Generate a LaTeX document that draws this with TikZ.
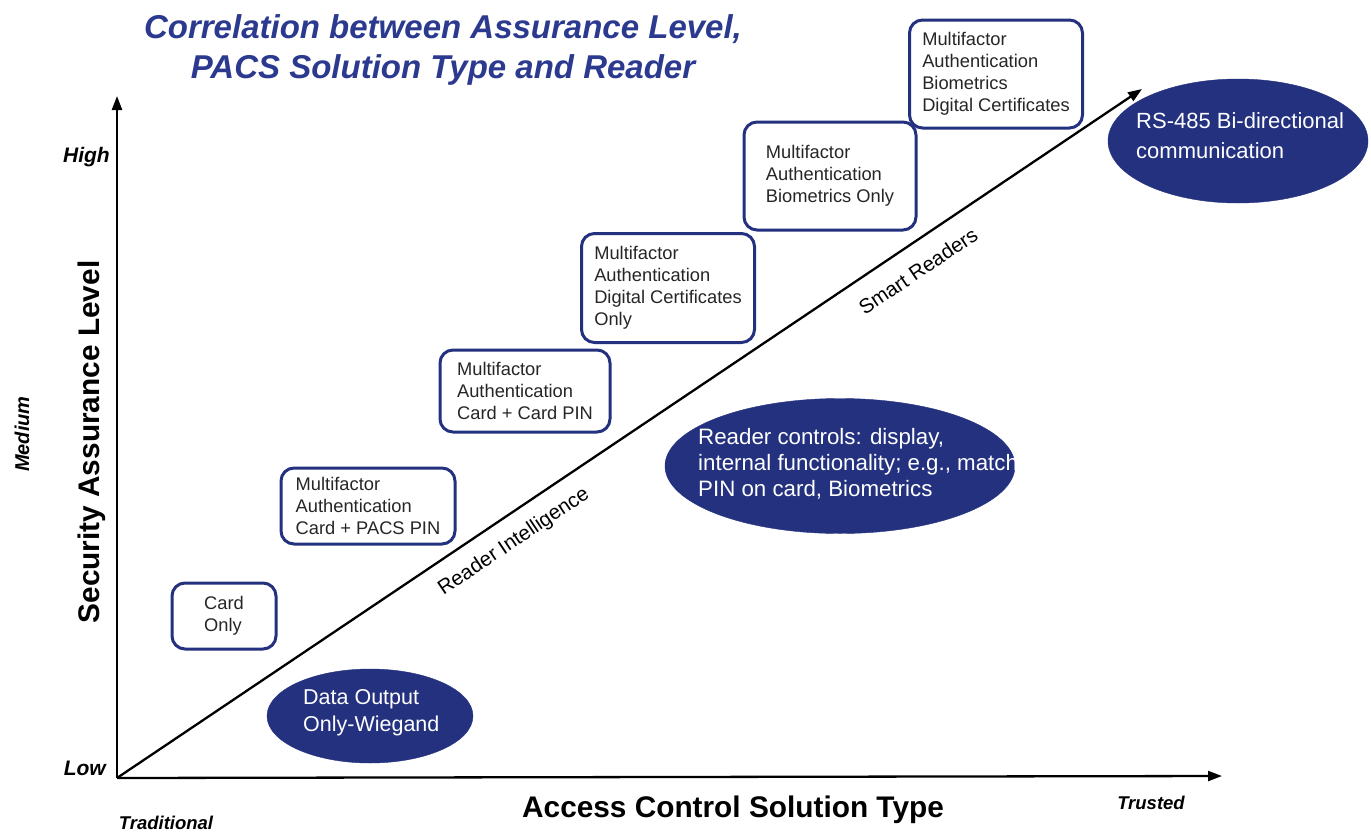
\documentclass[tikz,border=0pt]{standalone}
\usepackage{fontspec}
\setmainfont{Liberation Sans}
\usetikzlibrary{shapes.geometric,arrows.meta}
\definecolor{navy}{HTML}{24317F}
\definecolor{titleblue}{HTML}{2B3A8E}
\tikzset{
  mbox/.style={draw=navy, line width=3pt, rounded corners=13pt, align=left,
    font=\fontsize{18.3}{22}\selectfont, text=black!85, inner sep=0pt},
  oval/.style={ellipse, fill=navy, draw=navy, inner sep=0pt},
  ovaltext/.style={text=white, align=left, font=\fontsize{21.5}{27}\selectfont, inner sep=0pt},
  axisarrow/.style={line width=2.3pt, -{Triangle[length=14pt,width=10pt]}},
  axlab/.style={font=\bfseries\itshape\fontsize{21}{24}\selectfont, inner sep=0pt},
  smalllab/.style={font=\bfseries\itshape\fontsize{18.5}{22}\selectfont, inner sep=0pt},
  biglab/.style={font=\bfseries\fontsize{29.8}{34}\selectfont, inner sep=0pt},
  diaglab/.style={font=\fontsize{20.5}{24}\selectfont, rotate=33.9, inner sep=0pt}
}
\begin{document}
\begin{tikzpicture}[x=1pt,y=-1pt]
\useasboundingbox (0,0) rectangle (1371,833);
\fill[white] (0,0) rectangle (1371,833);

% title
\node[align=center, font=\bfseries\itshape\fontsize{33}{40}\selectfont, text=titleblue, inner sep=0pt]
  (title) at (443,50) {Correlation between Assurance Level,\\PACS Solution Type and Reader};

% ellipses
\node[oval, minimum width=206pt, minimum height=94pt] (e1) at (370,716) {};
\node[ovaltext, anchor=west] (t1) at (303,713) {Data Output\\Only-Wiegand};
\node[oval, minimum width=350pt, minimum height=135pt] (e2) at (840,466) {};
\node[ovaltext, anchor=west, font=\fontsize{22.3}{26}\selectfont] (t2) at (698,464)
  {Reader controls: display,\\internal functionality; e.g., match\\PIN on card, Biometrics};
\node[oval, minimum width=260pt, minimum height=124pt] (e3) at (1238,141) {};
\node[ovaltext, anchor=west, font=\fontsize{22}{30}\selectfont] (t3) at (1136,136)
  {RS-485 Bi-directional\\communication};

% axes
\coordinate (O) at (117,778);
\coordinate (ytop) at (117,96);
\coordinate (xend) at (1222,776);
\coordinate (dend) at (1142,89);
\draw[axisarrow] (O) -- (ytop);
\draw[axisarrow] (O) -- (xend);
\draw[axisarrow] (O) -- (dend);

% boxes
\node[mbox, minimum width=104pt, minimum height=66pt] (b1) at (224,616) {Card\\Only};
\node[mbox, minimum width=174pt, minimum height=76pt] (b2) at (368,506) {Multifactor\\Authentication\\Card + PACS PIN};
\node[mbox, minimum width=170pt, minimum height=82pt] (b3) at (525,391) {Multifactor\\Authentication\\Card + Card PIN};
\node[mbox, minimum width=173pt, minimum height=109pt] (b4) at (668,288) {Multifactor\\Authentication\\Digital Certificates\\Only};
\node[mbox, minimum width=172pt, minimum height=108pt] (b5) at (830,176) {Multifactor\\Authentication\\Biometrics Only};
\node[mbox, minimum width=173pt, minimum height=108pt] (b6) at (996,74) {Multifactor\\Authentication\\Biometrics\\Digital Certificates};

% axis labels
\node[axlab, anchor=east] (high) at (110,157) {High};
\node[axlab, anchor=east] (low) at (106,768) {Low};
\node[smalllab, rotate=90, font=\bfseries\itshape\fontsize{20}{24}\selectfont] (med) at (22,434) {Medium};
\node[smalllab] (trad) at (166,823) {Traditional};
\node[smalllab] (trust) at (1151,803) {Trusted};
\node[biglab, rotate=90] (ylab) at (92,442) {Security Assurance Level};
\node[biglab] (xlab) at (733,810) {Access Control Solution Type};

% diagonal labels
\node[diaglab] (ri) at (514,542) {Reader Intelligence};
\node[diaglab] (sr) at (918,271) {Smart Readers};
\end{tikzpicture}
\end{document}
